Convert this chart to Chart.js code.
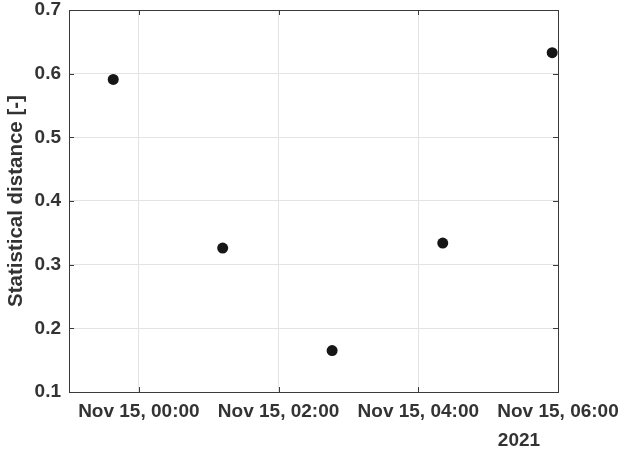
<!DOCTYPE html>
<html>
<head>
<meta charset="utf-8">
<script src="https://cdn.jsdelivr.net/npm/chart.js@4/dist/chart.umd.min.js"></script>
<style>
  html, body { margin: 0; padding: 0; background: #ffffff; }
  #wrap { width: 620px; height: 453px; }
</style>
</head>
<body>
<div id="wrap"><canvas id="c" width="620" height="453"></canvas></div>
<script>
// Sample times (UTC) and the statistical distance measured at each
const sampleTimes = ['2021-11-14T23:38Z', '2021-11-15T01:12Z', '2021-11-15T02:46Z', '2021-11-15T04:21Z', '2021-11-15T05:55Z'];
const distances = [0.591, 0.326, 0.165, 0.334, 0.633];

// Time axis: reference instant, range and labelled ticks
const timeOrigin = '2021-11-15T00:00Z';
const timeRange = ['2021-11-14T23:00Z', '2021-11-15T06:00Z'];
const tickTimes = ['2021-11-15T00:00Z', '2021-11-15T02:00Z', '2021-11-15T04:00Z', '2021-11-15T06:00Z'];
const tickLabels = ['Nov 15, 00:00', 'Nov 15, 02:00', 'Nov 15, 04:00', 'Nov 15, 06:00'];
const yearLabel = '2021';

// Value axis
const yMin = 0.1, yMax = 0.7, yStep = 0.1;
const yTitle = 'Statistical distance [-]';

const HOUR = 3600 * 1000;
const toHours = s => (Date.parse(s) - Date.parse(timeOrigin)) / HOUR;

const points = sampleTimes.map((t, i) => ({ x: toHours(t), y: distances[i] }));
const tickHours = tickTimes.map(toHours);

const TEXT = '#333333';
const AXIS = '#3a3a3a';
const GRID = '#e3e3e3';
const FONT = "'Liberation Sans', Arial, Helvetica, sans-serif";

// Keep the plot box fixed: labels may overhang the margins
const noPad = s => { s.paddingTop = 0; s.paddingBottom = 0; s.paddingLeft = 0; s.paddingRight = 0; };

// Boxed axes with short inward ticks on all four sides, plus the year note
const boxPlugin = {
  id: 'boxAxes',
  afterDraw(chart) {
    const { ctx, chartArea: a, scales: { x, y } } = chart;
    const len = 5;
    ctx.save();
    ctx.strokeStyle = AXIS;
    ctx.lineWidth = 1;
    ctx.beginPath();
    x.ticks.forEach(t => {
      const px = Math.round(x.getPixelForValue(t.value)) + 0.5;
      ctx.moveTo(px, a.bottom); ctx.lineTo(px, a.bottom - len);
      ctx.moveTo(px, a.top); ctx.lineTo(px, a.top + len);
    });
    y.ticks.forEach(t => {
      const py = Math.round(y.getPixelForValue(t.value)) + 0.5;
      ctx.moveTo(a.left, py); ctx.lineTo(a.left + len, py);
      ctx.moveTo(a.right, py); ctx.lineTo(a.right - len, py);
    });
    ctx.stroke();
    ctx.strokeRect(Math.round(a.left) + 0.5, Math.round(a.top) + 0.5,
                   Math.round(a.right - a.left), Math.round(a.bottom - a.top));
    ctx.fillStyle = TEXT;
    ctx.font = 'bold 19px ' + FONT;
    ctx.textAlign = 'center';
    ctx.textBaseline = 'alphabetic';
    ctx.fillText(yearLabel, x.getPixelForValue(tickHours[tickHours.length - 1]) - 39, a.bottom + 54);
    ctx.restore();
  }
};

new Chart(document.getElementById('c'), {
  type: 'scatter',
  data: {
    datasets: [{
      data: points,
      pointRadius: 5.5,
      pointHoverRadius: 5.5,
      pointBackgroundColor: '#161616',
      pointBorderColor: '#161616',
      pointBorderWidth: 0
    }]
  },
  options: {
    responsive: false,
    animation: false,
    events: [],
    layout: { padding: { top: 10, right: 62, left: 0, bottom: 0 } },
    plugins: { legend: { display: false }, tooltip: { enabled: false } },
    scales: {
      x: {
        type: 'linear',
        min: toHours(timeRange[0]),
        max: toHours(timeRange[1]),
        afterBuildTicks: s => { s.ticks = tickHours.map(v => ({ value: v })); },
        afterFit: s => { s.height = 61; noPad(s); },
        grid: { color: GRID, drawTicks: false },
        border: { display: true, color: AXIS },
        ticks: {
          color: TEXT,
          padding: 10,
          maxRotation: 0,
          autoSkip: false,
          font: { family: FONT, size: 19, weight: 'bold', lineHeight: 1.0 },
          callback: v => {
            const i = tickHours.indexOf(v);
            return i >= 0 ? tickLabels[i] : '';
          }
        }
      },
      y: {
        min: yMin,
        max: yMax,
        afterFit: s => { s.width = 69; noPad(s); },
        grid: { color: GRID, drawTicks: false },
        border: { display: true, color: AXIS },
        ticks: {
          stepSize: yStep,
          color: TEXT,
          padding: 8,
          font: { family: FONT, size: 19, weight: 'bold', lineHeight: 1.0 },
          callback: v => Number(v).toFixed(1)
        },
        title: {
          display: true,
          text: yTitle,
          color: TEXT,
          padding: { top: 4, bottom: 0 },
          font: { family: FONT, size: 20.5, weight: 'bold', lineHeight: 1.2 }
        }
      }
    }
  },
  plugins: [boxPlugin]
});
</script>
</body>
</html>
